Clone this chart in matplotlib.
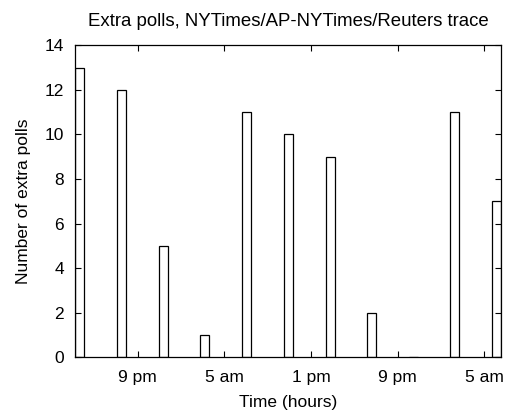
"""
Extra polls per time window, NYTimes/AP-NYTimes/Reuters trace
"""

import matplotlib
matplotlib.use('Agg')
import matplotlib.pyplot as plt

# hours counted from 3 pm on the first day
hours = [0.665, 4.54, 8.36, 12.2, 16.03, 19.88, 23.76, 27.54, 31.42, 35.27, 39.1]
extra_polls = [13, 12, 5, 1, 11, 10, 9, 2, 0, 11, 7]

tick_hours = [6, 14, 22, 30, 38]
tick_labels = ['9 pm', '5 am', '1 pm', '9 pm', '5 am']
y_ticks = [0, 2, 4, 6, 8, 10, 12, 14]

plt.rcParams['font.family'] = ['Liberation Sans', 'DejaVu Sans']

fig = plt.figure(figsize=(5.09, 4.17), dpi=100)
ax = fig.add_axes([0.148, 0.1432, 0.8357, 0.7482])

ax.bar(hours, extra_polls, width=0.83, color='white', edgecolor='black', linewidth=0.9)

ax.set_xlim(0.25, 39.51)
ax.set_ylim(0, 14)
ax.set_xticks(tick_hours)
ax.set_xticklabels(tick_labels)
ax.set_yticks(y_ticks)
ax.tick_params(direction='in', length=4, width=0.8, top=True, right=True,
               labelsize=12.5)
ax.tick_params(axis='x', pad=9)
ax.tick_params(axis='y', pad=8)

ax.set_xlabel('Time (hours)', fontsize=12.5, labelpad=7)
ax.set_ylabel('Number of extra polls', fontsize=12.5, labelpad=10)
ax.set_title('Extra polls, NYTimes/AP-NYTimes/Reuters trace', fontsize=13.4, pad=14)

for s in ax.spines.values():
    s.set_linewidth(0.9)

plt.savefig('out.png', dpi=100)
plt.close()
